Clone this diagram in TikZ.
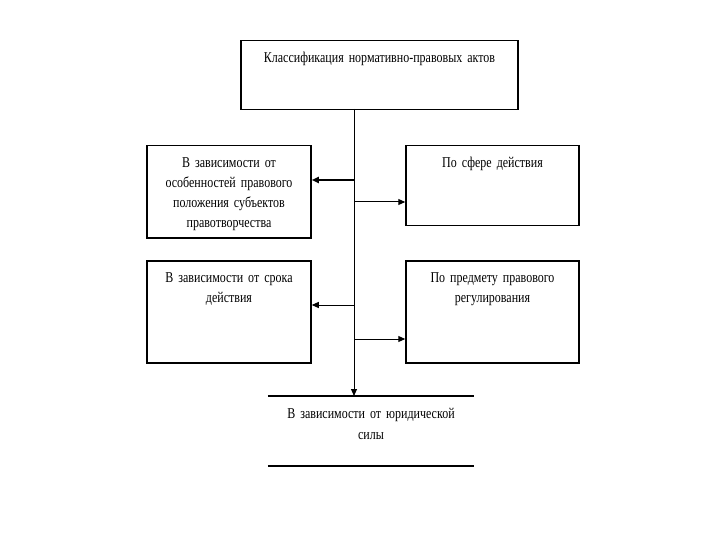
\documentclass[tikz,border=0pt]{standalone}
\usepackage{fontspec}
\setmainfont[FakeStretch=0.8]{Liberation Serif}
\usepackage{tikz}
\usetikzlibrary{shapes,arrows.meta,positioning,fit}

\newcommand{\tightspace}{\spaceskip=2.6pt\relax}

\begin{document}
\begin{tikzpicture}[
    x=1pt, y=-1pt,
    box/.style={rectangle, draw, line width=1.5pt, anchor=north, align=center,
        inner xsep=4pt, inner ysep=12pt, text height=10pt,
        font=\fontsize{15}{20}\selectfont\tightspace},
    plain/.style={rectangle, anchor=north, align=center, inner xsep=4pt, inner ysep=12pt,
        text height=10pt, font=\fontsize{15}{21}\selectfont\tightspace},
    arrow/.style={line width=1pt,-{Triangle[length=7pt,width=6pt]}}
]
    \useasboundingbox (0,0) rectangle (720,540);

    \node[box, text width=269pt, text depth=35pt] (cls) at (379.5,40) {Классификация нормативно-правовых актов};
    \node[box, text width=156pt, text depth=58pt] (subj) at (229,145) {В зависимости от\\особенностей правового\\положения субъектов\\правотворчества};
    \node[box, text width=165pt, text depth=46pt] (sphere) at (492.5,145) {По сфере действия};
    \node[box, text width=156pt, text depth=68pt] (term) at (229,260) {В зависимости от срока\\действия};
    \node[box, text width=165pt, text depth=68pt] (subject) at (492.5,260) {По предмету правового\\регулирования};
    \node[plain, text width=198pt, text depth=36pt] (force) at (371,396) {В зависимости от юридической\\силы};

    \draw[line width=1.5pt] (force.north west) -- (force.north east);
    \draw[line width=2pt] (force.south west) -- (force.south east);

    % trunk and branches
    \coordinate (top) at (354,109);
    \coordinate (b1) at (354,180);
    \coordinate (b2) at (354,202);
    \coordinate (b3) at (354,305);
    \coordinate (b4) at (354,339);

    \draw[arrow] (top) -- (top |- force.north);
    \draw[arrow, line width=2pt] (b1) -- (b1 -| subj.east);
    \draw[arrow] (b2) -- (b2 -| sphere.west);
    \draw[arrow] (b3) -- (b3 -| term.east);
    \draw[arrow] (b4) -- (b4 -| subject.west);
\end{tikzpicture}
\end{document}
